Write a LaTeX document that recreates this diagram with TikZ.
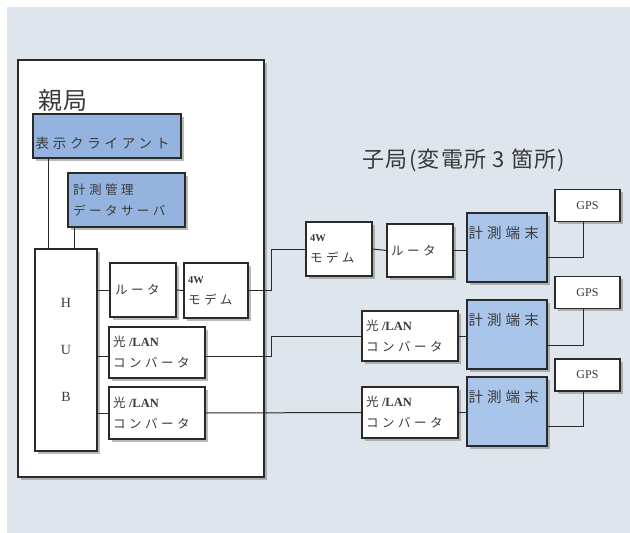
\documentclass[tikz,border=0pt]{standalone}
\usepackage{fontspec}
\setmainfont{Liberation Serif}
\newfontfamily\jp[LetterSpace=28]{Noto Sans CJK JP}
\newfontfamily\jptitle[LetterSpace=6]{Noto Sans CJK JP}
\usetikzlibrary{calc,shadows}
\definecolor{bgc}{HTML}{DEE5EC}
\definecolor{blueA}{HTML}{94B3DE}
\definecolor{blueB}{HTML}{AAC5EA}
\definecolor{edge}{HTML}{2A2A2A}
\definecolor{txt}{HTML}{3A3A3A}
\tikzset{
  box/.style={draw=edge, line width=1.2pt, fill=white, inner sep=0pt, text=txt,
    drop shadow={shadow xshift=2.5pt, shadow yshift=-2.5pt, fill=black!45, opacity=0.6}},
  lbox/.style={box, align=left, font=\fontsize{12.5}{21}\selectfont},
  conn/.style={draw=edge, line width=1pt},
  fourw/.style={font=\bfseries\fontsize{10.5}{12}\selectfont},
}
\newcommand{\fw}{{\bfseries\fontsize{10.5}{12}\selectfont 4W}}
\begin{document}
\begin{tikzpicture}[x=1pt,y=-1pt]
\useasboundingbox (0,0) rectangle (630,533);
\fill[bgc] (7,7) rectangle (630,533);
% main station frame
\node[box, minimum width=246pt, minimum height=417pt] (main) at (141,268.5) {};
\node[anchor=west, inner sep=0pt, text=txt, font=\jptitle\fontsize{24}{26}\selectfont] (maint) at (38,100) {親局};
% main station devices
\node[lbox, fill=blueA, minimum width=148pt, minimum height=44pt,
  label={[anchor=west, inner sep=0pt, text=txt, font=\jp\fontsize{13.5}{15}\selectfont, xshift=3pt, yshift=-7pt]west:表示クライアント}] (client) at (107,136) {};
\node[lbox, fill=blueA, minimum width=117pt, minimum height=54pt, text width=107pt] (server) at (126.5,200) {\jp 計測管理\\\jp データサーバ};
\node[box, minimum width=62pt, minimum height=202pt, align=center, font=\fontsize{14}{47}\selectfont] (hub) at (66,350) {H\\U\\B};
\node[lbox, minimum width=66pt, minimum height=54pt, text width=56pt] (router1) at (143,290) {\jp ルータ};
\node[lbox, minimum width=64pt, minimum height=55pt, text width=56pt] (modem1) at (216,290.5) {\fw\\\jp モデム};
\node[lbox, minimum width=96pt, minimum height=51pt, text width=88pt] (conv1) at (157,352.5) {{\jp 光}\textbf{/LAN}\\\jp コンバータ};
\node[lbox, minimum width=96pt, minimum height=52pt, text width=88pt] (conv2) at (157,413) {{\jp 光}\textbf{/LAN}\\\jp コンバータ};
% substation title
\node[inner sep=0pt, text=txt, font=\jptitle\fontsize{22}{24}\selectfont] (subt) at (464,160) {子局(変電所 3 箇所)};
% substation devices
\node[lbox, minimum width=66pt, minimum height=54pt, text width=58pt] (rmodem) at (339,249) {\fw\\\jp モデム};
\node[lbox, minimum width=66pt, minimum height=53pt, text width=58pt] (rrouter) at (420,250.5) {\jp ルータ};
\node[lbox, minimum width=96pt, minimum height=50pt, text width=88pt] (rconv1) at (410,336) {{\jp 光}\textbf{/LAN}\\\jp コンバータ};
\node[lbox, minimum width=96pt, minimum height=51pt, text width=88pt] (rconv2) at (410,412.5) {{\jp 光}\textbf{/LAN}\\\jp コンバータ};
\foreach \n/\cy in {term1/247.5, term2/334.5, term3/411.5}{
  \node[box, fill=blueB, minimum width=80pt, minimum height=69pt,
    label={[anchor=north west, inner sep=0pt, text=txt, font=\jp\fontsize{14.5}{16}\selectfont, xshift=2pt, yshift=-14pt]north west:計測端末}] (\n) at (507,\cy) {};
}
\foreach \n/\cy in {gps1/205.5, gps2/292.5, gps3/375}{
  \node[box, minimum width=65pt, minimum height=32pt, font=\fontsize{12}{14}\selectfont] (\n) at (587.5,\cy) {GPS};
}
% connectors
\coordinate (j1) at (271,0);
\draw[conn] ([xshift=16pt]client.south west) -- ([xshift=16pt]client.south west |- hub.north);
\draw[conn] ([xshift=7pt]server.south west) -- ([xshift=7pt]server.south west |- hub.north);
\draw[conn] (hub.east |- router1.west) -- (router1.west);
\draw[conn] (router1.east) -- (modem1.west);
\draw[conn] (hub.east |- conv1.west) ++(0,4) -- ([yshift=-4pt]conv1.west);
\draw[conn] (hub.east |- conv2.west) -- (conv2.west);
\draw[conn] (modem1.east) -| (j1 |- rmodem.west) -- (rmodem.west);
\draw[conn] ([yshift=-4pt]conv1.east) -| (j1 |- rconv1.west) -- (rconv1.west);
\draw[conn] (conv2.east) -- (rconv2.west);
\draw[conn] (rmodem.east) -- (rrouter.west);
\draw[conn] (rrouter.east) -- (rrouter.east -| term1.west);
\draw[conn] (rconv1.east) -- (rconv1.east -| term2.west);
\draw[conn] (rconv2.east) -- (rconv2.east -| term3.west);
\draw[conn] ([yshift=-9.5pt]term1.east) -| ([xshift=-4pt]gps1.south);
\draw[conn] ([yshift=-10.5pt]term2.east) -| ([xshift=-4pt]gps2.south);
\draw[conn] ([yshift=-14.5pt]term3.east) -| ([xshift=-4pt]gps3.south);
\end{tikzpicture}
\end{document}
